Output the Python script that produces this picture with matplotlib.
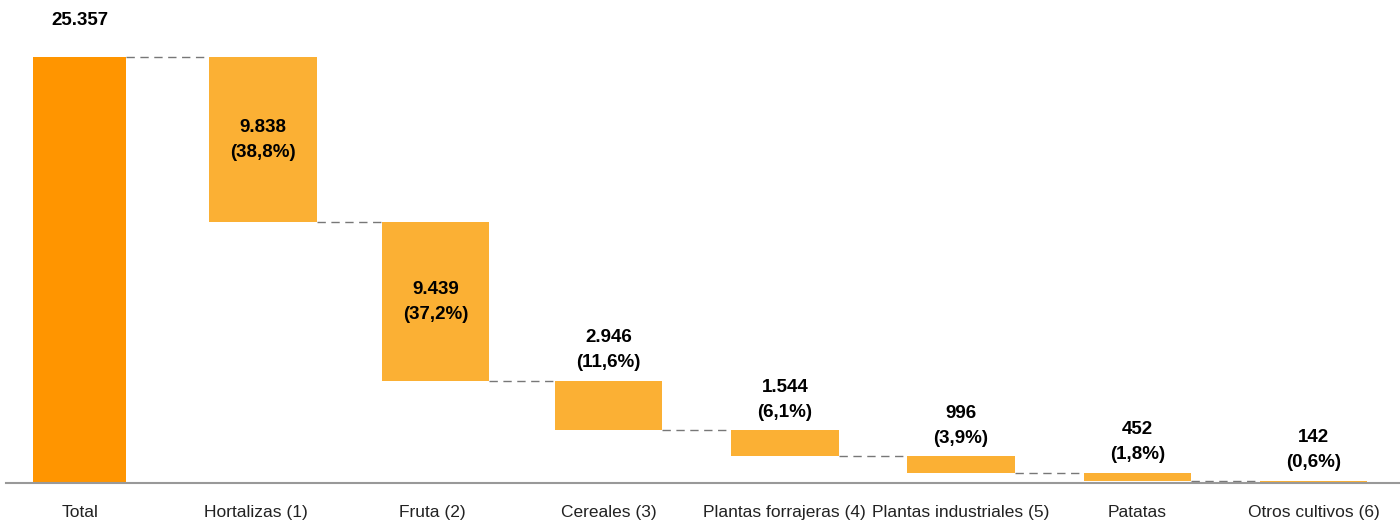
import numpy as np
import matplotlib
matplotlib.use('Agg')
import matplotlib.pyplot as plt

categories = ['Total', 'Hortalizas (1)', 'Fruta (2)', 'Cereales (3)',
              'Plantas forrajeras (4)', 'Plantas industriales (5)', 'Patatas', 'Otros cultivos (6)']
values = [25357, 9838, 9439, 2946, 1544, 996, 452, 142]
value_labels = ['25.357', '9.838', '9.439', '2.946', '1.544', '996', '452', '142']
pct_labels = ['', '(38,8%)', '(37,2%)', '(11,6%)', '(6,1%)', '(3,9%)', '(1,8%)', '(0,6%)']

total_color = '#FF9500'
part_color = '#FBB034'

plt.rcParams['font.family'] = ['Liberation Sans', 'DejaVu Sans']

fig = plt.figure(figsize=(14, 5.2), dpi=100)
ax = fig.add_axes([0.004, 37 / 520, 0.996, 1 - 37 / 520])

ticks = np.arange(len(categories))
# bars sit slightly off the tick centres in the original
x = ticks.astype(float)
x[1] += 0.04
x[2] += 0.02

# waterfall: bottoms of each floating bar
bottoms = [0]
level = values[0]
for v in values[1:]:
    level = level - v
    bottoms.append(level)
tops = [b + v for b, v in zip(bottoms, values)]

widths = [0.53] + [0.61] * (len(values) - 1)
colors = [total_color] + [part_color] * (len(values) - 1)
ax.bar(x, values, bottom=bottoms, width=widths, color=colors, zorder=2)

# dashed connectors
for i in range(len(values) - 1):
    y = tops[i + 1]
    ax.plot([x[i] + widths[i] / 2, x[i + 1] - widths[i + 1] / 2], [y, y],
            color='#777777', lw=1, dashes=(6, 4), zorder=1)

# labels
fs = 13.5
for i in range(len(values)):
    if i == 0:
        ax.annotate(value_labels[i], (x[i], tops[i]), xytext=(0, 26.5), textcoords='offset points',
                    ha='center', va='center', fontsize=fs, fontweight='bold')
    elif values[i] > 5000:
        mid = bottoms[i] + values[i] / 2
        ax.annotate(value_labels[i], (x[i], mid), xytext=(0, 8.5), textcoords='offset points',
                    ha='center', va='center', fontsize=fs, fontweight='bold')
        ax.annotate(pct_labels[i], (x[i], mid), xytext=(0, -9.5), textcoords='offset points',
                    ha='center', va='center', fontsize=fs, fontweight='bold')
    else:
        ax.annotate(value_labels[i], (x[i], tops[i]), xytext=(0, 31), textcoords='offset points',
                    ha='center', va='center', fontsize=fs, fontweight='bold')
        ax.annotate(pct_labels[i], (x[i], tops[i]), xytext=(0, 13), textcoords='offset points',
                    ha='center', va='center', fontsize=fs, fontweight='bold')

ax.set_xlim(-0.42, 7.49)
ax.set_ylim(0, 28750)
ax.set_xticks(ticks)
ax.set_xticklabels(categories, fontsize=12.5, color='#222222')
ax.tick_params(axis='x', length=0, pad=16)
ax.set_yticks([])
for s in ['top', 'right', 'left']:
    ax.spines[s].set_visible(False)
ax.spines['bottom'].set_color('#999999')
ax.spines['bottom'].set_linewidth(1.5)

fig.savefig('out.png', dpi=100)
